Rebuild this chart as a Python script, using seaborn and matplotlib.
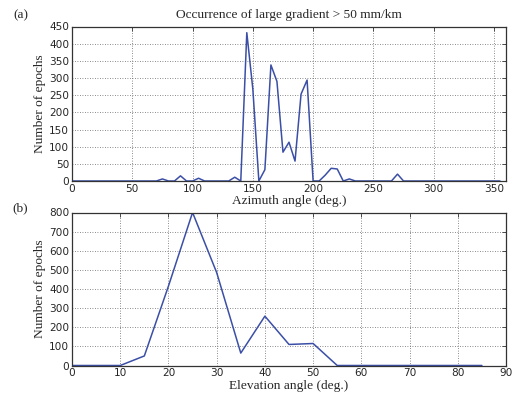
import numpy as np
import pandas as pd
import matplotlib
matplotlib.use("Agg")
import matplotlib.pyplot as plt
import seaborn as sns

# Azimuth (deg) and counts
azimuth = list(range(0, 360, 5))
az_counts = [0, 0, 0, 0, 0, 0, 0, 0, 0, 0, 0, 0, 0, 0, 0, 6,   # 0..75
             0, 0, 15, 0, 0, 8, 0, 0, 0, 0, 0, 11, 0,            # 80..140
             432, 268, 0, 33, 338, 290, 84, 113, 58, 253, 294,   # 145..195
             0, 0, 17, 37, 35, 0, 6, 0, 0, 0, 0, 0, 0, 0, 20,    # 200..270
             0, 0, 0, 0, 0, 0, 0, 0, 0, 0, 0, 0, 0, 0, 0, 0, 0]  # 275..355

elevation = list(range(0, 90, 5))
el_counts = [0, 0, 0, 50, 415, 800, 486, 65, 258, 110, 115, 0, 0, 0, 0, 0, 0, 0]

df_az = pd.DataFrame({"az": azimuth, "n": az_counts})
df_el = pd.DataFrame({"el": elevation, "n": el_counts})

sns.set_style("white")
plt.rcParams["font.family"] = ["DejaVu Sans"]

fig = plt.figure(figsize=(5.14, 3.96), dpi=100)
W, H = 514, 396
ax1 = fig.add_axes([72 / W, 1 - 181 / H, (506 - 72) / W, (181 - 26.5) / H])
ax2 = fig.add_axes([72 / W, 1 - 365.5 / H, (506 - 72) / W, (365.5 - 212.5) / H])

color = "#3b4fa6"
sns.lineplot(data=df_az, x="az", y="n", ax=ax1, color=color, linewidth=1.1)
sns.lineplot(data=df_el, x="el", y="n", ax=ax2, color=color, linewidth=1.1)

serif = "Liberation Serif"
ax1.set_xlim(0, 360)
ax1.set_ylim(0, 450)
ax1.set_xticks(range(0, 351, 50))
ax1.set_yticks(range(0, 451, 50))
ax1.set_xlabel("Azimuth angle (deg.)", family=serif, fontsize=9.6, labelpad=1)
ax1.set_ylabel("Number of epochs", family=serif, fontsize=9.6, labelpad=2)
ax1.set_title("Occurrence of large gradient > 50 mm/km", family=serif, fontsize=9.6, pad=6, x=0.5)

ax2.set_xlim(0, 90)
ax2.set_ylim(0, 800)
ax2.set_xticks(range(0, 91, 10))
ax2.set_yticks(range(0, 801, 100))
ax2.set_xlabel("Elevation angle (deg.)", family=serif, fontsize=9.6, labelpad=1)
ax2.set_ylabel("Number of epochs", family=serif, fontsize=9.6, labelpad=2)

for ax in (ax1, ax2):
    ax.grid(True, linestyle=(0, (1, 2)), color="#666666", linewidth=0.6)
    ax.tick_params(axis="both", labelsize=7.6, pad=2, length=3, width=0.6,
                   direction="in", top=True, right=True, color="#333333")
    for s in ax.spines.values():
        s.set_color("#333333")
        s.set_linewidth(0.9)

fig.text(13 / W, 1 - 15 / H, "(a)", family=serif, fontsize=9.6, ha="left", va="center")
fig.text(12 / W, 1 - 208 / H, "(b)", family=serif, fontsize=9.6, ha="left", va="center")

fig.savefig("out.png", dpi=100)
